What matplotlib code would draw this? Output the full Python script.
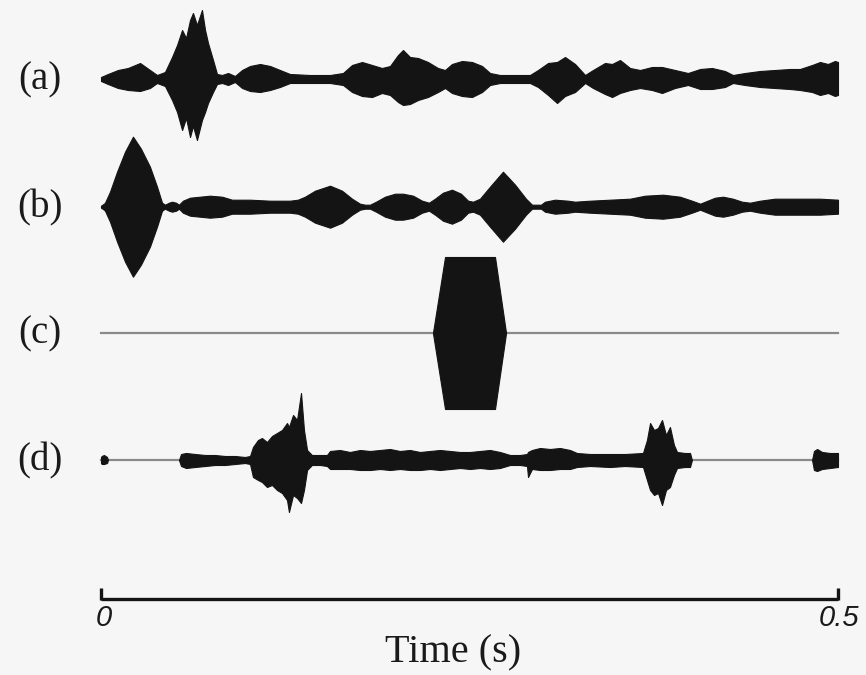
import numpy as np
import matplotlib
matplotlib.use('Agg')
import matplotlib.pyplot as plt

# envelopes: time in ms, amplitude in arbitrary units
# trace (a)
a_t = [0, 4.7, 11.5, 18.3, 26.5, 33.2, 38.0, 43.4, 48.2, 51.6, 55.0, 57.7, 60.4, 62.4,
       65.1, 68.5, 70.6, 72.6, 76.0, 78.7, 82.1, 86.2, 90.9, 95.7, 101.1, 107.9, 114.7,
       121.4, 128.2, 141.8, 155.4, 164.2, 170.3, 177.1, 183.9, 190.6, 196.1, 201.5, 204.9,
       209.6, 215.1, 221.8, 228.6, 233.4, 238.1, 244.9, 251.7, 258.5, 263.9, 270.7, 280.9,
       291.0, 296.5, 303.3, 309.4, 314.8, 321.6, 328.4, 333.8, 341.9, 346.7, 352.1, 358.9,
       365.7, 373.8, 380.6, 389.4, 398.2, 406.5, 414.5, 423.3, 428.7, 436.9, 447.1, 457.2,
       467.4, 474.2, 482.4, 487.8, 493.2, 497.9, 500.0]
a_up = [2, 5, 9, 11, 16, 9, 4, 7, 22, 34, 49, 41, 59, 66, 54, 69, 49, 36, 19, 5, 4, 6, 3,
        9, 13, 15, 13, 9, 5, 4, 4, 6, 14, 17, 14, 11, 13, 24, 29, 22, 21, 17, 11, 9, 15, 18,
        17, 13, 6, 4, 4, 4, 9, 16, 17, 22, 15, 4, 9, 16, 15, 19, 11, 9, 12, 12, 9, 6, 10,
        11, 8, 4, 6, 8, 9, 10, 10, 14, 17, 15, 18, 17]
a_dn = [2, 5, 9, 11, 12, 9, 4, 7, 21, 33, 51, 39, 58, 47, 61, 41, 33, 24, 13, 5, 4, 6, 3,
        9, 12, 13, 11, 8, 4, 4, 4, 6, 13, 17, 18, 14, 16, 23, 26, 25, 21, 18, 13, 9, 14, 17,
        18, 13, 6, 4, 4, 4, 8, 16, 24, 17, 13, 4, 9, 15, 18, 14, 11, 9, 11, 14, 9, 6, 10,
        10, 8, 4, 6, 8, 9, 10, 11, 13, 16, 14, 17, 16]

# trace (b), symmetric
b_t = [0, 2.0, 2.7, 6.1, 10.9, 16.3, 21.7, 27.1, 33.2, 38.0, 41.4, 43.4, 46.1, 48.2, 50.9,
       52.9, 55.6, 60.4, 67.2, 73.9, 82.1, 88.9, 101.1, 114.7, 128.2, 133.6, 138.4, 145.2,
       155.4, 163.5, 170.3, 175.7, 179.1, 182.5, 186.6, 192.7, 199.5, 204.9, 211.7, 217.8,
       222.5, 226.6, 232.0, 238.1, 244.2, 249.0, 252.4, 257.1, 263.9, 272.7, 280.9, 288.3,
       292.4, 295.8, 298.5, 301.2, 308.0, 316.8, 321.6, 331.8, 345.3, 358.9, 369.1, 381.3,
       392.8, 400.9, 406.5, 409.8, 416.6, 422.0, 428.7, 434.9, 440.3, 447.1, 457.2, 474.2,
       487.8, 500.0]
b_amp = [1, 3, 4, 15, 35, 55, 70, 58, 40, 20, 4, 2, 4, 5, 4, 2, 6, 9, 10, 11, 10, 7, 7, 6,
         6, 7, 10, 16, 21, 16, 8, 3, 2, 2, 5, 10, 13, 13, 11, 6, 4, 8, 14, 17, 13, 6, 5, 8,
         20, 35, 22, 8, 2, 2, 2, 5, 7, 6, 5, 6, 7, 8, 11, 12, 10, 6, 3, 5, 9, 10, 8, 5, 4, 6,
         8, 8, 8, 7]

# trace (c): single tone burst
c_t = [225.2, 233.4, 267.3, 274.8]
c_amp = [0, 76, 76, 0]

# trace (d): three pieces separated by silence
d_t = [[0, 0.5, 2.0, 4.1, 4.7],
       [52.9, 54.3, 57.7, 63.8, 70.6, 77.3, 84.1, 90.9, 97.7, 101.1, 103.1, 106.5, 109.2,
        112.6, 116.0, 119.4, 122.8, 126.2, 127.5, 130.3, 133.0, 135.7, 137.7, 139.8, 143.1,
        148.6, 153.3, 155.4, 162.1, 168.9, 175.7, 182.5, 189.3, 196.1, 202.8, 209.6, 216.4,
        223.2, 230.0, 236.8, 243.6, 250.3, 257.1, 263.9, 270.7, 277.5, 284.3, 289.0, 289.7,
        292.4, 297.8, 304.6, 311.4, 318.2, 322.9, 331.8, 345.3, 355.5, 367.7, 370.4, 372.5,
        375.2, 377.9, 380.6, 383.3, 386.0, 388.7, 390.8, 396.2, 399.6, 400.9],
       [482.4, 483.7, 485.8, 489.2, 494.6, 500.0]]
d_up = [[3, 4, 5, 3, 0],
        [0, 6, 7, 6, 5, 5, 4, 4, 3, 4, 13, 20, 22, 18, 24, 27, 30, 37, 33, 45, 40, 67, 30,
         10, 5, 5, 5, 9, 10, 8, 10, 9, 10, 11, 9, 10, 8, 9, 10, 9, 8, 8, 9, 10, 8, 5, 5, 6,
         8, 10, 12, 11, 12, 10, 7, 6, 6, 6, 7, 20, 37, 30, 32, 40, 25, 33, 15, 8, 7, 7, 0],
        [0, 9, 11, 8, 7, 7]]
d_dn = [[3, 4, 4, 3, 0],
        [0, 6, 8, 7, 6, 5, 5, 4, 3, 4, 17, 20, 22, 27, 25, 30, 33, 40, 52, 35, 38, 43, 30,
         10, 5, 5, 6, 9, 9, 9, 10, 10, 9, 10, 9, 10, 10, 9, 10, 9, 8, 9, 8, 9, 8, 5, 5, 6,
         17, 9, 10, 10, 9, 9, 7, 6, 7, 6, 7, 20, 30, 35, 33, 45, 30, 27, 15, 8, 7, 7, 0],
        [0, 10, 11, 9, 8, 7]]

labels = ['(a)', '(b)', '(c)', '(d)']
t_end = 500

fig = plt.figure(figsize=(8.66, 6.75), dpi=100)
fig.patch.set_facecolor('#f6f6f6')
ax = fig.add_axes([0, 0, 1, 1])
ax.set_facecolor('#f6f6f6')
# axis spans the whole figure; t=0 at x px 101, t=500 ms at px 838
px_ms = 1.474
ax.set_xlim(-101 / px_ms, (866 - 101) / px_ms)
ax.set_ylim(675, 0)
ax.axis('off')

centres = [79, 206.7, 333, 460]
ink = '#141414'
grey = '#8a8a8a'

def envelope(t, up, dn, y0):
    t = np.array(t)
    ax.fill_between(t, y0 - np.array(up), y0 + np.array(dn), color=ink, lw=0.8,
                    edgecolor=ink, zorder=3)

envelope(a_t, a_up, a_dn, centres[0])
envelope(b_t, b_amp, b_amp, centres[1])

ax.plot([0, t_end], [centres[2], centres[2]], color=grey, lw=1.6, zorder=2)
envelope(c_t, c_amp, c_amp, centres[2])

ax.plot([0, t_end], [centres[3], centres[3]], color=grey, lw=1.6, zorder=2)
for t, u, d in zip(d_t, d_up, d_dn):
    envelope(t, u, d, centres[3])

for lab, y in zip(labels, centres):
    ax.text(-41.4, y + 1, lab, fontsize=28, family='Liberation Serif',
            ha='center', va='center', color='#1a1a1a')

# time scale bar
ax.plot([0, t_end], [599, 599], color=ink, lw=2.4, solid_capstyle='butt')
ax.plot([0, 0], [588, 600], color=ink, lw=2.4, solid_capstyle='butt')
ax.plot([t_end, t_end], [588, 600], color=ink, lw=2.4, solid_capstyle='butt')
ax.text(2, 618, '0', fontsize=21, style='italic', family='Liberation Sans',
        ha='center', va='center', color='#1a1a1a')
ax.text(514.5, 618, '0.5', fontsize=21, style='italic', family='Liberation Sans',
        ha='right', va='center', color='#1a1a1a')
ax.text(239, 653, 'Time (s)', fontsize=29, family='Liberation Serif',
        ha='center', va='center', color='#1a1a1a')

fig.savefig('out.png', dpi=100, facecolor=fig.get_facecolor())
